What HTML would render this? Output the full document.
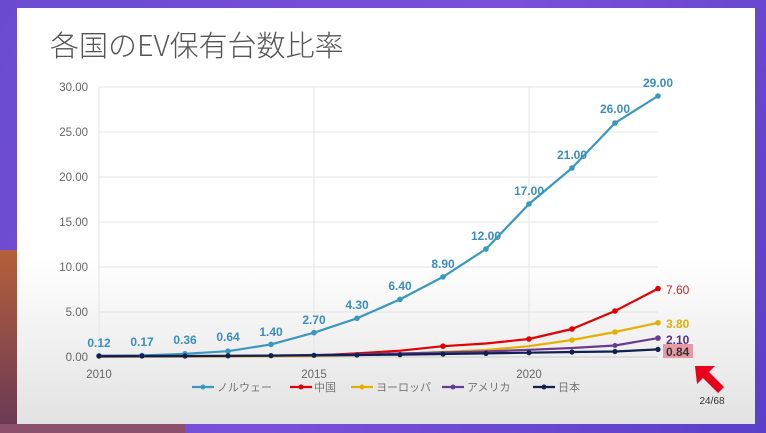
<!DOCTYPE html>
<html><head><meta charset="utf-8"><style>
body{margin:0;width:766px;height:433px;overflow:hidden;background:linear-gradient(120deg,#6a4bd0,#7a50d8 50%,#5a3fc8);font-family:"Liberation Sans","Noto Sans CJK JP",sans-serif;position:relative}
.bl{position:absolute;left:0;top:424px;width:185px;height:9px;background:#8a4f6a}
.lo{position:absolute;left:0;top:250px;width:17px;height:174px;background:linear-gradient(#b5603a,#6a3a55)}
.slide{position:absolute;left:17px;top:8px;width:738px;height:416px;background:linear-gradient(#fff 0%,#fff 60%,#e2e2e2 100%)}
</style></head><body>
<div class="lo"></div><div class="bl"></div>
<div class="slide"></div>
<svg width="766" height="433" style="position:absolute;left:0;top:0" font-family="Liberation Sans, Noto Sans CJK JP, sans-serif">
<text x="50" y="56" font-size="29" fill="#555" font-family="Noto Sans CJK JP, sans-serif" font-weight="300">各国のEV保有台数比率</text>
<g stroke="#e4e4e4" stroke-width="1">
<line x1="99" y1="87" x2="658" y2="87"/><line x1="99" y1="132" x2="658" y2="132"/><line x1="99" y1="177" x2="658" y2="177"/><line x1="99" y1="222" x2="658" y2="222"/><line x1="99" y1="267" x2="658" y2="267"/><line x1="99" y1="312" x2="658" y2="312"/>
<line x1="99" y1="87" x2="99" y2="357"/><line x1="314" y1="87" x2="314" y2="357"/><line x1="529" y1="87" x2="529" y2="357"/>
</g>
<line x1="99" y1="357" x2="658" y2="357" stroke="#ccc"/>
<g font-size="11.5" fill="#666" text-anchor="end">
<text x="88" y="91">30.00</text><text x="88" y="136">25.00</text><text x="88" y="181">20.00</text><text x="88" y="226">15.00</text><text x="88" y="271">10.00</text><text x="88" y="316">5.00</text><text x="88" y="361">0.00</text>
</g>
<g font-size="11.5" fill="#666" text-anchor="middle"><text x="99" y="378">2010</text><text x="314" y="378">2015</text><text x="529" y="378">2020</text></g>
<g fill="none" stroke-width="2.2" stroke-linejoin="round">
<polyline stroke="#3a98c0" points="99,355.9 142,355.5 185,353.8 228,351.2 271,344.4 314,332.7 357,318.3 400,299.4 443,276.9 486,249 529,204 572,168 615,123 658,96"/>
<polyline stroke="#e00000" points="99,356.5 142,356.4 185,356.3 228,356.2 271,356 314,355.5 357,353.4 400,350.7 443,346.2 486,343.5 529,339 572,329 615,311 658,288.6"/>
<polyline stroke="#e3b000" points="99,356.8 142,356.7 185,356.6 228,356.5 271,356.3 314,356 357,355 400,354 443,352 486,350 529,346.2 572,340 615,332 658,322.8"/>
<polyline stroke="#6a3a90" points="99,356.5 142,356.4 185,356.2 228,356 271,355.6 314,355 357,354.3 400,353.5 443,352.5 486,351.5 529,349.8 572,348 615,345.5 658,338.1"/>
<polyline stroke="#102050" points="99,356 142,356 185,356 228,355.8 271,355.6 314,355.3 357,355 400,354.6 443,354 486,353.4 529,352.7 572,352 615,351.5 658,349.4"/>
</g>
<g fill="#3a98c0">
<circle cx="99" cy="355.9" r="2.8"/><circle cx="142" cy="355.5" r="2.8"/><circle cx="185" cy="353.8" r="2.8"/><circle cx="228" cy="351.2" r="2.8"/><circle cx="271" cy="344.4" r="2.8"/><circle cx="314" cy="332.7" r="2.8"/><circle cx="357" cy="318.3" r="2.8"/><circle cx="400" cy="299.4" r="2.8"/><circle cx="443" cy="276.9" r="2.8"/><circle cx="486" cy="249" r="2.8"/><circle cx="529" cy="204" r="2.8"/><circle cx="572" cy="168" r="2.8"/><circle cx="615" cy="123" r="2.8"/><circle cx="658" cy="96" r="2.8"/></g>
<g fill="#e00000"><circle cx="443" cy="346.2" r="2.8"/><circle cx="529" cy="339" r="2.8"/><circle cx="572" cy="329" r="2.8"/><circle cx="615" cy="311" r="2.8"/><circle cx="658" cy="288.6" r="2.8"/></g>
<g fill="#e3b000"><circle cx="572" cy="340" r="2.8"/><circle cx="615" cy="332" r="2.8"/><circle cx="658" cy="322.8" r="2.8"/></g>
<g fill="#6a3a90"><circle cx="615" cy="345.5" r="2.5"/><circle cx="658" cy="338.1" r="2.8"/></g>
<g fill="#102050"><circle cx="99" cy="356" r="2.6"/><circle cx="142" cy="356" r="2.6"/><circle cx="185" cy="356" r="2.6"/><circle cx="228" cy="355.8" r="2.6"/><circle cx="271" cy="355.6" r="2.6"/><circle cx="314" cy="355.3" r="2.6"/><circle cx="357" cy="355" r="2.6"/><circle cx="400" cy="354.6" r="2.6"/><circle cx="443" cy="354" r="2.6"/><circle cx="486" cy="353.4" r="2.6"/><circle cx="529" cy="352.7" r="2.6"/><circle cx="572" cy="352" r="2.6"/><circle cx="615" cy="351.5" r="2.6"/><circle cx="658" cy="349.4" r="2.6"/></g>
<g font-size="12" font-weight="bold" fill="#3a8ec0" text-anchor="middle">
<text x="99" y="347">0.12</text><text x="142" y="346">0.17</text><text x="185" y="344">0.36</text><text x="228" y="341">0.64</text><text x="271" y="336">1.40</text><text x="314" y="324">2.70</text><text x="357" y="309">4.30</text><text x="400" y="290">6.40</text><text x="443" y="268">8.90</text><text x="486" y="240">12.00</text><text x="529" y="195">17.00</text><text x="572" y="159">21.00</text><text x="615" y="113">26.00</text><text x="658" y="87">29.00</text>
</g>
<rect x="663" y="344" width="30" height="14" fill="#e89aa5"/>
<g font-size="12" font-weight="bold">
<text x="666" y="294" fill="#d02020" font-weight="normal">7.60</text>
<text x="666" y="328" fill="#e3b000">3.80</text>
<text x="666" y="344" fill="#5a2e80">2.10</text>
<text x="666" y="356" fill="#333">0.84</text>
</g>
<polygon points="695,366 715,366 709,372 724,387 718,393 703,378 697,384" fill="#e8001a"/>
<text x="712" y="404" font-size="10" fill="#333" text-anchor="middle">24/68</text>
<g font-size="11" fill="#777" font-family="Noto Sans CJK JP, sans-serif">
<line x1="192" y1="387" x2="214" y2="387" stroke="#3a98c0" stroke-width="2.2"/><circle cx="203" cy="387" r="2.5" fill="#3a98c0"/><text x="217" y="391">ノルウェー</text>
<line x1="290" y1="387" x2="312" y2="387" stroke="#e00000" stroke-width="2.2"/><circle cx="301" cy="387" r="2.5" fill="#e00000"/><text x="314" y="391">中国</text>
<line x1="351" y1="387" x2="373" y2="387" stroke="#e3b000" stroke-width="2.2"/><circle cx="362" cy="387" r="2.5" fill="#e3b000"/><text x="376" y="391">ヨーロッパ</text>
<line x1="442" y1="387" x2="464" y2="387" stroke="#6a3a90" stroke-width="2.2"/><circle cx="453" cy="387" r="2.5" fill="#6a3a90"/><text x="467" y="391">アメリカ</text>
<line x1="533" y1="387" x2="555" y2="387" stroke="#102050" stroke-width="2.2"/><circle cx="544" cy="387" r="2.5" fill="#102050"/><text x="558" y="391">日本</text>
</g>
</svg>
</body></html>
